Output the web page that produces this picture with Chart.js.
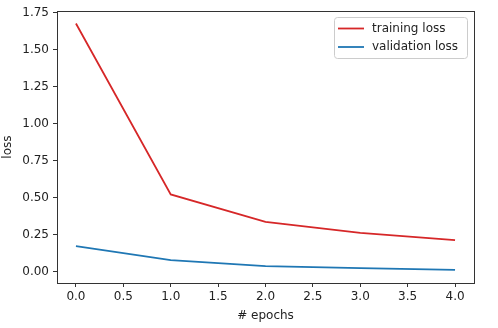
<!DOCTYPE html>
<html><head><meta charset="utf-8">
<script src="https://cdn.jsdelivr.net/npm/chart.js@4"></script>
<style>html,body{margin:0;padding:0;background:#fff}canvas{display:block}</style>
</head><body>
<canvas id="c" width="498" height="328"></canvas>
<script>
const epochs = [0, 1, 2, 3, 4];
const trainingLoss = [1.676, 0.522, 0.337, 0.263, 0.214];
const validationLoss = [0.173, 0.079, 0.038, 0.025, 0.013];
const xTicks = [0, 0.5, 1, 1.5, 2, 2.5, 3, 3.5, 4];
const yTicks = [0, 0.25, 0.5, 0.75, 1, 1.25, 1.5, 1.75];
const seriesNames = ['training loss', 'validation loss'];
const colors = ['#d62728', '#1f77b4'];

const FONT = 'DejaVu Sans';
const pts = arr => epochs.map((x, i) => ({x, y: arr[i]}));

const framePlugin = {
  id: 'frame',
  afterDraw(chart) {
    const {ctx, chartArea: a} = chart;
    ctx.save();
    ctx.strokeStyle = '#333';
    ctx.lineWidth = 1;
    ctx.strokeRect(Math.round(a.left) + 0.5, Math.round(a.top) + 0.5, Math.round(a.right - a.left), Math.round(a.bottom - a.top));
    // legend
    const bx = 334.5, by = 17.5, bw = 133, bh = 41, r = 3;
    ctx.fillStyle = 'rgba(255,255,255,0.8)';
    ctx.strokeStyle = '#cccccc';
    ctx.beginPath();
    ctx.moveTo(bx + r, by);
    ctx.lineTo(bx + bw - r, by); ctx.quadraticCurveTo(bx + bw, by, bx + bw, by + r);
    ctx.lineTo(bx + bw, by + bh - r); ctx.quadraticCurveTo(bx + bw, by + bh, bx + bw - r, by + bh);
    ctx.lineTo(bx + r, by + bh); ctx.quadraticCurveTo(bx, by + bh, bx, by + bh - r);
    ctx.lineTo(bx, by + r); ctx.quadraticCurveTo(bx, by, bx + r, by);
    ctx.closePath(); ctx.fill(); ctx.stroke();
    ctx.font = '12px "' + FONT + '"';
    ctx.textBaseline = 'middle';
    ctx.textAlign = 'left';
    seriesNames.forEach((name, i) => {
      const y = 28.5 + i * 18.5;
      ctx.strokeStyle = colors[i];
      ctx.lineWidth = 1.8;
      ctx.beginPath(); ctx.moveTo(338, y); ctx.lineTo(364, y); ctx.stroke();
      ctx.fillStyle = '#222';
      ctx.fillText(name, 372, y);
    });
    ctx.restore();
  }
};

new Chart(document.getElementById('c'), {
  type: 'line',
  data: {
    datasets: seriesNames.map((name, i) => ({
      label: name,
      data: pts(i === 0 ? trainingLoss : validationLoss),
      borderColor: colors[i],
      backgroundColor: colors[i],
      borderWidth: 1.8,
      pointRadius: 0,
      tension: 0,
      fill: false
    }))
  },
  options: {
    responsive: false,
    animation: false,
    devicePixelRatio: 1,
    layout: {padding: {left: 1, top: 11, right: 24, bottom: 5}},
    plugins: {legend: {display: false}, tooltip: {enabled: false}},
    scales: {
      x: {
        type: 'linear', min: -0.2, max: 4.2,
        afterBuildTicks: s => { s.ticks = xTicks.map(v => ({value: v})); },
        afterFit: s => { s.height = 40; },
        grid: {display: true, drawOnChartArea: false, drawTicks: true, tickLength: 4, color: '#333', tickColor: '#333'},
        border: {display: false},
        ticks: {color: '#222', font: {family: FONT, size: 12}, padding: 3, maxRotation: 0,
                callback: v => Number(v).toFixed(1)},
        title: {display: true, text: '# epochs', color: '#222', font: {family: FONT, size: 12}, padding: {top: 0, bottom: 0}}
      },
      y: {
        type: 'linear', min: -0.0755, max: 1.759,
        afterBuildTicks: s => { s.ticks = yTicks.map(v => ({value: v})); },
        afterFit: s => { s.width = 56; },
        grid: {display: true, drawOnChartArea: false, drawTicks: true, tickLength: 4, color: '#333', tickColor: '#333'},
        border: {display: false},
        ticks: {color: '#222', font: {family: FONT, size: 12}, padding: 4,
                callback: v => Number(v).toFixed(2)},
        title: {display: true, text: 'loss', color: '#222', font: {family: FONT, size: 12}, padding: {top: 0, bottom: 0}}
      }
    }
  },
  plugins: [framePlugin]
});
</script>
</body></html>
